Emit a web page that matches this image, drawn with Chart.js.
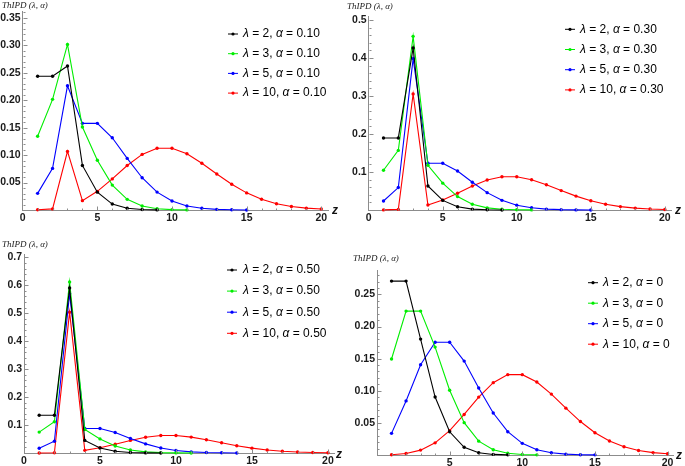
<!DOCTYPE html>
<html><head><meta charset="utf-8">
<script src="https://cdn.jsdelivr.net/npm/chart.js@4.4.0/dist/chart.umd.min.js"></script>
<style>
html,body{margin:0;padding:0;background:#fff;width:685px;height:466px;overflow:hidden;}
canvas{position:absolute;}
</style></head><body>
<canvas id="c1" width="342" height="233" style="left:0;top:0"></canvas>
<canvas id="c2" width="343" height="233" style="left:342px;top:0"></canvas>
<canvas id="c3" width="342" height="233" style="left:0;top:233px"></canvas>
<canvas id="c4" width="343" height="233" style="left:342px;top:233px"></canvas>
<script>
// ---------- data ----------
const zValues = [1,2,3,4,5,6,7,8,9,10,11,12,13,14,15,16,17,18,19,20];
const lambdas = [2,3,5,10];
const alphaLabels = ['0.10','0.30','0.50','0'];
const seriesColors = ['#000000','#00ee00','#0000ff','#ff0000'];

// alpha = 0.10
const a10_l2  = [0.2436,0.2436,0.2624,0.0812,0.0325,0.0108,0.0031,0.0008,0.0002];
const a10_l3  = [0.1344,0.2016,0.3016,0.1512,0.0907,0.0454,0.0194,0.0073,0.0024,0.0007,0.0002];
const a10_l5  = [0.0303,0.0758,0.2263,0.1579,0.1579,0.1316,0.0940,0.0588,0.0326,0.0163,0.0074,0.0031,0.0012,0.0004,0.0001];
const a10_l10 = [0.0004,0.0020,0.1068,0.0170,0.0340,0.0567,0.0811,0.1013,0.1126,0.1126,0.1024,0.0853,0.0656,0.0469,0.0312,0.0195,0.0115,0.0064,0.0034,0.0017];
// alpha = 0.30
const a30_l2  = [0.1895,0.1895,0.4263,0.0632,0.0253,0.0084,0.0024,0.0006,0.0001];
const a30_l3  = [0.1046,0.1568,0.4568,0.1176,0.0706,0.0353,0.0151,0.0057,0.0019,0.0006,0.0002];
const a30_l5  = [0.0236,0.0590,0.3983,0.1228,0.1228,0.1024,0.0731,0.0457,0.0254,0.0127,0.0058,0.0024,0.0009,0.0003,0.0001];
const a30_l10 = [0.0003,0.0016,0.3053,0.0132,0.0265,0.0441,0.0631,0.0788,0.0876,0.0876,0.0796,0.0663,0.0510,0.0365,0.0243,0.0152,0.0089,0.0050,0.0026,0.0013];
// alpha = 0.50
const a50_l2  = [0.1353,0.1353,0.5902,0.0451,0.0180,0.0060,0.0017,0.0004,0.0001];
const a50_l3  = [0.0747,0.1120,0.6120,0.0840,0.0504,0.0252,0.0108,0.0041,0.0014,0.0004,0.0001];
const a50_l5  = [0.0168,0.0421,0.5702,0.0877,0.0877,0.0731,0.0522,0.0326,0.0181,0.0091,0.0041,0.0017,0.0007,0.0002];
const a50_l10 = [0.0002,0.0011,0.5038,0.0095,0.0189,0.0315,0.0450,0.0563,0.0626,0.0626,0.0569,0.0474,0.0365,0.0260,0.0174,0.0108,0.0064,0.0035,0.0019,0.0009];
// alpha = 0
const a00_l2  = [0.2707,0.2707,0.1804,0.0902,0.0361,0.0120,0.0034,0.0009,0.0002];
const a00_l3  = [0.1494,0.2240,0.2240,0.1680,0.1008,0.0504,0.0216,0.0081,0.0027,0.0008,0.0002];
const a00_l5  = [0.0337,0.0842,0.1404,0.1755,0.1755,0.1462,0.1044,0.0653,0.0363,0.0181,0.0082,0.0034,0.0013,0.0005,0.0002];
const a00_l10 = [0.0005,0.0023,0.0076,0.0189,0.0378,0.0631,0.0901,0.1126,0.1251,0.1251,0.1137,0.0948,0.0729,0.0521,0.0347,0.0217,0.0128,0.0071,0.0037,0.0019];

const xTicksWithZero = [0,5,10,15,20];
const xTicksNoZero = [5,10,15,20];
const yTicksA10 = [0.05,0.10,0.15,0.20,0.25,0.30,0.35];
const yTicksA30 = [0.1,0.2,0.3,0.4,0.5];
const yTicksA50 = [0.1,0.2,0.3,0.4,0.5,0.6,0.7];
const yTicksA00 = [0.05,0.10,0.15,0.20,0.25];
const titleText = 'ThIPD (λ, α)';
const xAxisName = 'z';

// ---------- layout (page pixel coordinates) ----------
const panels = [
  {id:'c1', cx:0, cy:0, cw:342, ch:233, L:22.7, R:328, T:11.6, B:210, yMax:0.3615, xMax:20.45,
   series:[a10_l2,a10_l3,a10_l5,a10_l10], alpha:alphaLabels[0], xTicks:xTicksWithZero, yTicks:yTicksA10, yDec:2, yMinor:0.01,
   title:[2,6], zl:[335,211], leg:{mx:228, tx:243, y0:34, dy:19.7}},
  {id:'c2', cx:342, cy:0, cw:343, ch:233, L:368.7, R:671.5, T:16.5, B:210, yMax:0.509, xMax:20.45,
   series:[a30_l2,a30_l3,a30_l5,a30_l10], alpha:alphaLabels[1], xTicks:xTicksWithZero, yTicks:yTicksA30, yDec:1, yMinor:0.02,
   title:[347,6.5], zl:[678,210.5], leg:{mx:565, tx:580, y0:29.3, dy:20.2}},
  {id:'c3', cx:0, cy:233, cw:342, ch:233, L:24, R:334.8, T:254, B:453, yMax:0.712, xMax:20.45,
   series:[a50_l2,a50_l3,a50_l5,a50_l10], alpha:alphaLabels[2], xTicks:xTicksWithZero, yTicks:yTicksA50, yDec:1, yMinor:0.02,
   title:[2,245], zl:[339,455], leg:{mx:227, tx:243, y0:270, dy:21.1}},
  {id:'c4', cx:342, cy:233, cw:343, ch:233, L:377, R:673.4, T:270, B:455, yMax:0.288, xMax:20.4,
   series:[a00_l2,a00_l3,a00_l5,a00_l10], alpha:alphaLabels[3], xTicks:xTicksNoZero, yTicks:yTicksA00, yDec:2, yMinor:0.01,
   title:[353,258.3], zl:[679,456], leg:{mx:588, tx:603, y0:282.7, dy:20.5}}
];

const tickFont = {family:'"Liberation Sans", Arial, sans-serif', size:10.5, weight:'bold'};
const axisColor = '#8c8c8c';

function makeChart(p) {
  const canvas = document.getElementById(p.id);
  const datasets = p.series.map((arr, i) => ({
    label: 'λ = ' + lambdas[i] + ', α = ' + p.alpha,
    lambda: lambdas[i],
    data: arr.map((v, k) => ({x: zValues[k], y: v})),
    borderColor: seriesColors[i],
    backgroundColor: seriesColors[i],
    pointBackgroundColor: seriesColors[i],
    pointBorderWidth: 0,
    pointRadius: 1.7,
    borderWidth: 1.1,
    tension: 0,
    clip: false
  }));

  const decor = {
    id: 'decor',
    afterDraw(chart) {
      const ctx = chart.ctx;
      const xs = chart.scales.x, ys = chart.scales.y;
      const ox = p.cx, oy = p.cy;
      ctx.save();
      // tick marks (inward, Mathematica style)
      ctx.strokeStyle = axisColor; ctx.lineWidth = 1;
      const axX = Math.round(xs.getPixelForValue(0)) + 0.5;
      const axY = Math.round(ys.getPixelForValue(0)) + 0.5;
      ctx.beginPath();
      for (let v = 1; v <= 20; v++) {
        const px = Math.round(xs.getPixelForValue(v)) + 0.5;
        const len = (v % 5 === 0) ? 4 : 2;
        ctx.moveTo(px, axY); ctx.lineTo(px, axY - len);
      }
      const nMinor = Math.floor(p.yMax / p.yMinor + 1e-6);
      for (let k = 1; k <= nMinor; k++) {
        const v = k * p.yMinor;
        const major = p.yTicks.some(t => Math.abs(t - v) < 1e-6);
        const py = Math.round(ys.getPixelForValue(v)) + 0.5;
        ctx.moveTo(axX, py); ctx.lineTo(axX + (major ? 4 : 2), py);
      }
      ctx.stroke();
      // axis title
      ctx.fillStyle = '#222';
      ctx.textBaseline = 'middle'; ctx.textAlign = 'left';
      ctx.font = 'italic 9px "Liberation Serif", serif';
      ctx.fillText(titleText, p.title[0] - ox, p.title[1] - oy);
      // z label
      ctx.font = 'italic bold 12px "Liberation Sans", sans-serif';
      ctx.textAlign = 'center';
      ctx.fillStyle = '#111';
      ctx.fillText(xAxisName, p.zl[0] - ox, p.zl[1] - oy);
      // legend
      chart.data.datasets.forEach((ds, i) => {
        const y = p.leg.y0 + i * p.leg.dy - oy;
        const mx = p.leg.mx - ox;
        ctx.strokeStyle = ds.borderColor; ctx.lineWidth = 1;
        ctx.beginPath(); ctx.moveTo(mx, y); ctx.lineTo(mx + 10, y); ctx.stroke();
        ctx.fillStyle = ds.borderColor;
        ctx.beginPath(); ctx.arc(mx + 5, y, 1.6, 0, Math.PI * 2); ctx.fill();
        const segs = [['λ', true], [' = ' + ds.lambda + ', ', false], ['α', true], [' = ' + p.alpha, false]];
        let x = p.leg.tx - ox;
        ctx.fillStyle = '#000'; ctx.textAlign = 'left'; ctx.textBaseline = 'middle';
        segs.forEach(([s, ital]) => {
          ctx.font = (ital ? 'italic ' : '') + '12px "Liberation Sans", Arial, sans-serif';
          ctx.fillText(s, x, y);
          x += ctx.measureText(s).width;
        });
      });
      ctx.restore();
    }
  };

  return new Chart(canvas, {
    type: 'line',
    data: {datasets},
    options: {
      responsive: false,
      animation: false,
      devicePixelRatio: 1,
      events: [],
      layout: {padding: {left: 0, top: p.T - p.cy, right: p.cw - (p.R - p.cx), bottom: 0}},
      plugins: {legend: {display: false}, tooltip: {enabled: false}, title: {display: false}},
      scales: {
        x: {
          type: 'linear', position: 'bottom', min: 0, max: p.xMax,
          grid: {display: false, drawTicks: false},
          border: {display: true, color: axisColor, width: 1},
          ticks: {font: tickFont, color: '#1a1a1a', padding: 2, autoSkip: false, maxRotation: 0,
                  callback: v => String(v)},
          afterBuildTicks: s => { s.ticks = p.xTicks.map(v => ({value: v})); },
          afterFit: s => { s.height = p.ch - (p.B - p.cy); }
        },
        y: {
          type: 'linear', position: 'left', min: 0, max: p.yMax,
          grid: {display: false, drawTicks: false},
          border: {display: true, color: axisColor, width: 1},
          ticks: {font: tickFont, color: '#1a1a1a', padding: 2, autoSkip: false,
                  callback: v => Number(v).toFixed(p.yDec)},
          afterBuildTicks: s => { s.ticks = p.yTicks.map(v => ({value: v})); },
          afterFit: s => { s.width = p.L - p.cx; }
        }
      }
    },
    plugins: [decor]
  });
}
panels.forEach(makeChart);
</script>
</body></html>
